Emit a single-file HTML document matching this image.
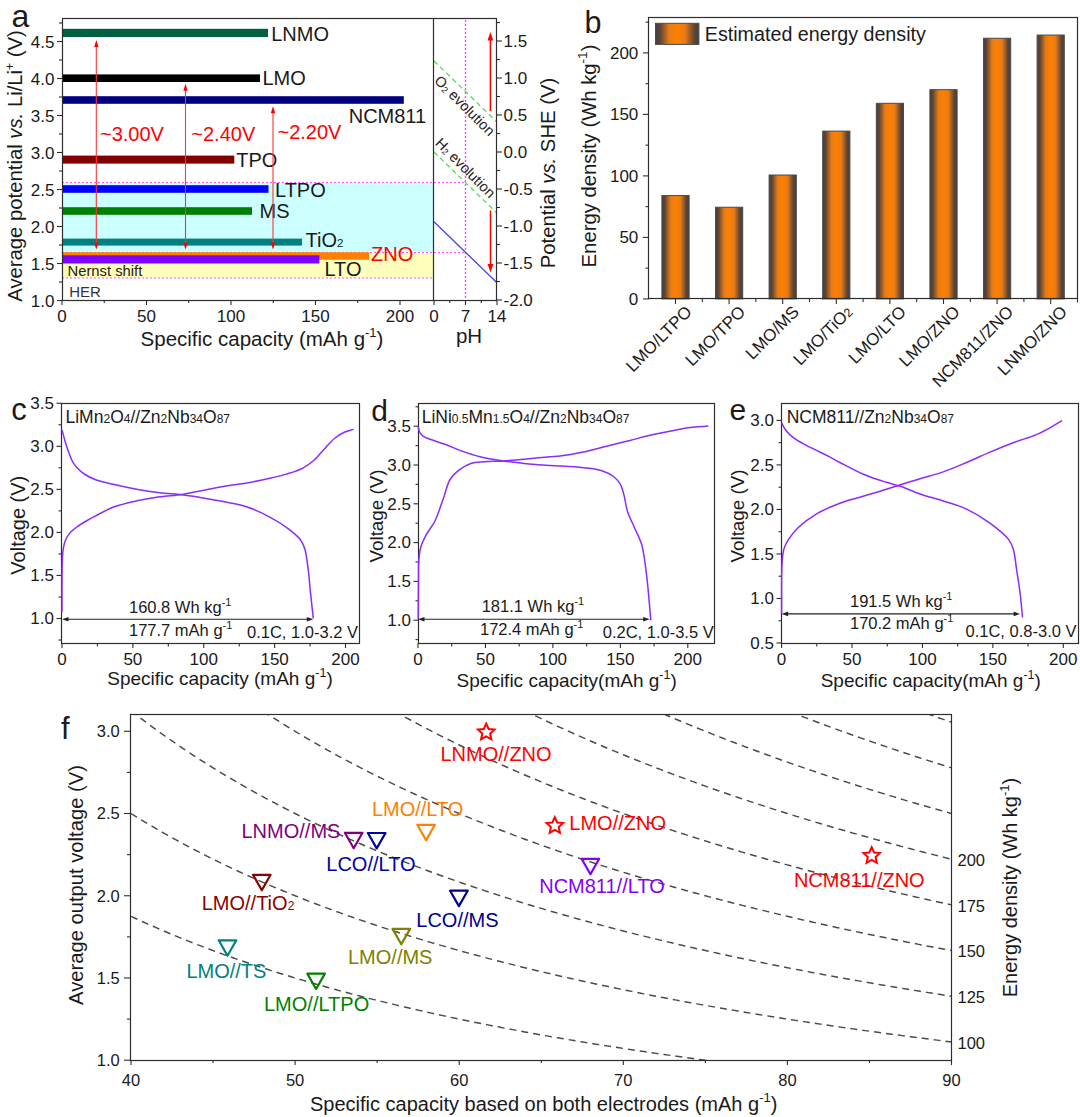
<!DOCTYPE html><html><head><meta charset="utf-8"><style>html,body{margin:0;padding:0;background:#fff;width:1080px;height:1117px;overflow:hidden}svg{display:block}text{font-family:'Liberation Sans',sans-serif}</style></head><body>
<svg width="1080" height="1117" viewBox="0 0 1080 1117">
<rect width="1080" height="1117" fill="#fff"/>
<rect x="62" y="182.5" width="372" height="70" fill="#CCFFFF"/>
<rect x="62" y="252.5" width="372" height="25.5" fill="#FFFFBB"/>
<line x1="62.00" y1="182.50" x2="465.50" y2="182.50" stroke="#FF55FF" stroke-width="1.2" stroke-dasharray="2,2"/>
<line x1="62.00" y1="252.50" x2="465.50" y2="252.50" stroke="#FF55FF" stroke-width="1.2" stroke-dasharray="2,2"/>
<line x1="62.00" y1="278.00" x2="434.00" y2="278.00" stroke="#FF55FF" stroke-width="1.2" stroke-dasharray="2,2"/>
<line x1="465.50" y1="20.00" x2="465.50" y2="300.00" stroke="#FF44FF" stroke-width="1.4" stroke-dasharray="2,2"/>
<rect x="62" y="28.80" width="206.00" height="8.2" fill="#006040"/>
<rect x="62" y="74.40" width="198.00" height="7.6" fill="#000000"/>
<rect x="62" y="96.20" width="341.80" height="7.6" fill="#000080"/>
<rect x="62" y="155.60" width="172.30" height="8" fill="#800000"/>
<rect x="62" y="185.20" width="206.50" height="7.6" fill="#0000FF"/>
<rect x="62" y="207.20" width="190.00" height="7.6" fill="#008000"/>
<rect x="62" y="238.60" width="240.00" height="7" fill="#008080"/>
<rect x="62" y="252.25" width="307.00" height="7.5" fill="#FF8000"/>
<rect x="62" y="255.30" width="257.40" height="8.2" fill="#8000FF"/>
<text x="271.20" y="40.50" font-size="20" text-anchor="start" fill="#1a1a1a" >LNMO</text>
<text x="262.50" y="84.50" font-size="20" text-anchor="start" fill="#1a1a1a" >LMO</text>
<text x="348.70" y="122.50" font-size="20" text-anchor="start" fill="#1a1a1a" >NCM811</text>
<text x="236.20" y="167.20" font-size="20" text-anchor="start" fill="#1a1a1a" >TPO</text>
<text x="275.00" y="197.00" font-size="20" text-anchor="start" fill="#1a1a1a" >LTPO</text>
<text x="259.50" y="217.50" font-size="20" text-anchor="start" fill="#1a1a1a" >MS</text>
<text x="305.60" y="246.90" font-size="20" text-anchor="start" fill="#1a1a1a" >TiO<tspan font-size="11.5">2</tspan></text>
<text x="371.10" y="261.30" font-size="20" text-anchor="start" fill="#FF0000" >ZNO</text>
<text x="324.40" y="276.10" font-size="20" text-anchor="start" fill="#1a1a1a" >LTO</text>
<text x="69.20" y="297.30" font-size="15" text-anchor="start" fill="#333" >HER</text>
<text x="67.50" y="275.50" font-size="14.8" text-anchor="start" fill="#222" >Nernst shift</text>
<line x1="96.30" y1="45.00" x2="96.30" y2="244.50" stroke="#FF3333" stroke-width="1.1" />
<polygon points="96.30,40.00 94.10,47.00 98.50,47.00" fill="#FF0000"/>
<polygon points="96.30,249.5 94.10,242.5 98.50,242.5" fill="#FF0000"/>
<line x1="185.50" y1="88.80" x2="185.50" y2="244.50" stroke="#FF3333" stroke-width="1.1" />
<polygon points="185.50,83.80 183.30,90.80 187.70,90.80" fill="#FF0000"/>
<polygon points="185.50,249.5 183.30,242.5 187.70,242.5" fill="#FF0000"/>
<line x1="273.00" y1="111.30" x2="273.00" y2="244.50" stroke="#FF3333" stroke-width="1.1" />
<polygon points="273.00,106.30 270.80,113.30 275.20,113.30" fill="#FF0000"/>
<polygon points="273.00,249.5 270.80,242.5 275.20,242.5" fill="#FF0000"/>
<text x="100.00" y="141.00" font-size="20" text-anchor="start" fill="#FF0000" >~3.00V</text>
<text x="191.30" y="141.00" font-size="20" text-anchor="start" fill="#FF0000" >~2.40V</text>
<text x="277.50" y="139.30" font-size="20" text-anchor="start" fill="#FF0000" >~2.20V</text>
<line x1="434.00" y1="60.98" x2="497.00" y2="122.10" stroke="#55DD55" stroke-width="1.3" stroke-dasharray="5,3.5"/>
<line x1="434.00" y1="152.00" x2="497.00" y2="213.12" stroke="#55DD55" stroke-width="1.3" stroke-dasharray="5,3.5"/>
<line x1="434.00" y1="221.80" x2="497.00" y2="282.80" stroke="#4444EE" stroke-width="1.3" />
<line x1="490.40" y1="111.00" x2="490.40" y2="38.80" stroke="#FF0000" stroke-width="1.5" />
<polygon points="490.40,32.00 487.50,40.50 493.30,40.50" fill="#FF0000"/>
<line x1="490.50" y1="210.50" x2="490.50" y2="265.70" stroke="#FF0000" stroke-width="1.5" />
<polygon points="490.50,272.50 487.60,264.00 493.40,264.00" fill="#FF0000"/>
<text font-size="14.5" fill="#222" transform="translate(433.5,81.5) rotate(45)">O<tspan font-size="9" dy="1">2</tspan><tspan dy="-1"> evolution</tspan></text>
<text font-size="14.5" fill="#222" transform="translate(434.5,144) rotate(45)">H<tspan font-size="9" dy="1">2</tspan><tspan dy="-1"> evolution</tspan></text>
<rect x="62.5" y="18.5" width="434" height="282" fill="none" stroke="#2e2e2e" stroke-width="1.2"/>
<line x1="433.50" y1="18.50" x2="433.50" y2="300.50" stroke="#2e2e2e" stroke-width="1.2" />
<line x1="57.00" y1="300.50" x2="62.00" y2="300.50" stroke="#2e2e2e" stroke-width="1.1" />
<text x="54.50" y="306.50" font-size="17" text-anchor="end" fill="#1a1a1a" >1.0</text>
<line x1="57.00" y1="263.50" x2="62.00" y2="263.50" stroke="#2e2e2e" stroke-width="1.1" />
<text x="54.50" y="269.50" font-size="17" text-anchor="end" fill="#1a1a1a" >1.5</text>
<line x1="57.00" y1="226.50" x2="62.00" y2="226.50" stroke="#2e2e2e" stroke-width="1.1" />
<text x="54.50" y="232.50" font-size="17" text-anchor="end" fill="#1a1a1a" >2.0</text>
<line x1="57.00" y1="189.50" x2="62.00" y2="189.50" stroke="#2e2e2e" stroke-width="1.1" />
<text x="54.50" y="195.50" font-size="17" text-anchor="end" fill="#1a1a1a" >2.5</text>
<line x1="57.00" y1="152.50" x2="62.00" y2="152.50" stroke="#2e2e2e" stroke-width="1.1" />
<text x="54.50" y="158.50" font-size="17" text-anchor="end" fill="#1a1a1a" >3.0</text>
<line x1="57.00" y1="115.50" x2="62.00" y2="115.50" stroke="#2e2e2e" stroke-width="1.1" />
<text x="54.50" y="121.50" font-size="17" text-anchor="end" fill="#1a1a1a" >3.5</text>
<line x1="57.00" y1="78.50" x2="62.00" y2="78.50" stroke="#2e2e2e" stroke-width="1.1" />
<text x="54.50" y="84.50" font-size="17" text-anchor="end" fill="#1a1a1a" >4.0</text>
<line x1="57.00" y1="41.50" x2="62.00" y2="41.50" stroke="#2e2e2e" stroke-width="1.1" />
<text x="54.50" y="47.50" font-size="17" text-anchor="end" fill="#1a1a1a" >4.5</text>
<line x1="59.00" y1="282.00" x2="62.00" y2="282.00" stroke="#2e2e2e" stroke-width="1.1" />
<line x1="59.00" y1="245.00" x2="62.00" y2="245.00" stroke="#2e2e2e" stroke-width="1.1" />
<line x1="59.00" y1="208.00" x2="62.00" y2="208.00" stroke="#2e2e2e" stroke-width="1.1" />
<line x1="59.00" y1="171.00" x2="62.00" y2="171.00" stroke="#2e2e2e" stroke-width="1.1" />
<line x1="59.00" y1="134.00" x2="62.00" y2="134.00" stroke="#2e2e2e" stroke-width="1.1" />
<line x1="59.00" y1="97.00" x2="62.00" y2="97.00" stroke="#2e2e2e" stroke-width="1.1" />
<line x1="59.00" y1="60.00" x2="62.00" y2="60.00" stroke="#2e2e2e" stroke-width="1.1" />
<line x1="59.00" y1="23.00" x2="62.00" y2="23.00" stroke="#2e2e2e" stroke-width="1.1" />
<line x1="497.00" y1="41.00" x2="502.00" y2="41.00" stroke="#2e2e2e" stroke-width="1.1" />
<text x="503.50" y="47.00" font-size="17" text-anchor="start" fill="#1a1a1a" >1.5</text>
<line x1="497.00" y1="78.00" x2="502.00" y2="78.00" stroke="#2e2e2e" stroke-width="1.1" />
<text x="503.50" y="84.00" font-size="17" text-anchor="start" fill="#1a1a1a" >1.0</text>
<line x1="497.00" y1="115.00" x2="502.00" y2="115.00" stroke="#2e2e2e" stroke-width="1.1" />
<text x="503.50" y="121.00" font-size="17" text-anchor="start" fill="#1a1a1a" >0.5</text>
<line x1="497.00" y1="152.00" x2="502.00" y2="152.00" stroke="#2e2e2e" stroke-width="1.1" />
<text x="503.50" y="158.00" font-size="17" text-anchor="start" fill="#1a1a1a" >0.0</text>
<line x1="497.00" y1="189.00" x2="502.00" y2="189.00" stroke="#2e2e2e" stroke-width="1.1" />
<text x="503.50" y="195.00" font-size="17" text-anchor="start" fill="#1a1a1a" >-0.5</text>
<line x1="497.00" y1="226.00" x2="502.00" y2="226.00" stroke="#2e2e2e" stroke-width="1.1" />
<text x="503.50" y="232.00" font-size="17" text-anchor="start" fill="#1a1a1a" >-1.0</text>
<line x1="497.00" y1="263.00" x2="502.00" y2="263.00" stroke="#2e2e2e" stroke-width="1.1" />
<text x="503.50" y="269.00" font-size="17" text-anchor="start" fill="#1a1a1a" >-1.5</text>
<line x1="497.00" y1="300.00" x2="502.00" y2="300.00" stroke="#2e2e2e" stroke-width="1.1" />
<text x="503.50" y="306.00" font-size="17" text-anchor="start" fill="#1a1a1a" >-2.0</text>
<line x1="497.00" y1="22.50" x2="500.00" y2="22.50" stroke="#2e2e2e" stroke-width="1.1" />
<line x1="497.00" y1="59.50" x2="500.00" y2="59.50" stroke="#2e2e2e" stroke-width="1.1" />
<line x1="497.00" y1="96.50" x2="500.00" y2="96.50" stroke="#2e2e2e" stroke-width="1.1" />
<line x1="497.00" y1="133.50" x2="500.00" y2="133.50" stroke="#2e2e2e" stroke-width="1.1" />
<line x1="497.00" y1="170.50" x2="500.00" y2="170.50" stroke="#2e2e2e" stroke-width="1.1" />
<line x1="497.00" y1="207.50" x2="500.00" y2="207.50" stroke="#2e2e2e" stroke-width="1.1" />
<line x1="497.00" y1="244.50" x2="500.00" y2="244.50" stroke="#2e2e2e" stroke-width="1.1" />
<line x1="497.00" y1="281.50" x2="500.00" y2="281.50" stroke="#2e2e2e" stroke-width="1.1" />
<line x1="497.00" y1="318.50" x2="500.00" y2="318.50" stroke="#2e2e2e" stroke-width="1.1" />
<line x1="62.00" y1="300.50" x2="62.00" y2="305.00" stroke="#2e2e2e" stroke-width="1.1" />
<text x="62.00" y="321.70" font-size="17" text-anchor="middle" fill="#1a1a1a" >0</text>
<line x1="146.50" y1="300.50" x2="146.50" y2="305.00" stroke="#2e2e2e" stroke-width="1.1" />
<text x="146.50" y="321.70" font-size="17" text-anchor="middle" fill="#1a1a1a" >50</text>
<line x1="231.00" y1="300.50" x2="231.00" y2="305.00" stroke="#2e2e2e" stroke-width="1.1" />
<text x="231.00" y="321.70" font-size="17" text-anchor="middle" fill="#1a1a1a" >100</text>
<line x1="315.50" y1="300.50" x2="315.50" y2="305.00" stroke="#2e2e2e" stroke-width="1.1" />
<text x="315.50" y="321.70" font-size="17" text-anchor="middle" fill="#1a1a1a" >150</text>
<line x1="400.00" y1="300.50" x2="400.00" y2="305.00" stroke="#2e2e2e" stroke-width="1.1" />
<text x="400.00" y="321.70" font-size="17" text-anchor="middle" fill="#1a1a1a" >200</text>
<line x1="104.25" y1="300.50" x2="104.25" y2="303.00" stroke="#2e2e2e" stroke-width="1.1" />
<line x1="188.75" y1="300.50" x2="188.75" y2="303.00" stroke="#2e2e2e" stroke-width="1.1" />
<line x1="273.25" y1="300.50" x2="273.25" y2="303.00" stroke="#2e2e2e" stroke-width="1.1" />
<line x1="357.75" y1="300.50" x2="357.75" y2="303.00" stroke="#2e2e2e" stroke-width="1.1" />
<line x1="434.00" y1="300.50" x2="434.00" y2="305.00" stroke="#2e2e2e" stroke-width="1.1" />
<text x="434.00" y="321.70" font-size="17" text-anchor="middle" fill="#1a1a1a" >0</text>
<line x1="465.50" y1="300.50" x2="465.50" y2="305.00" stroke="#2e2e2e" stroke-width="1.1" />
<text x="465.50" y="321.70" font-size="17" text-anchor="middle" fill="#1a1a1a" >7</text>
<line x1="497.00" y1="300.50" x2="497.00" y2="305.00" stroke="#2e2e2e" stroke-width="1.1" />
<text x="497.00" y="321.70" font-size="17" text-anchor="middle" fill="#1a1a1a" >14</text>
<line x1="449.75" y1="300.50" x2="449.75" y2="303.00" stroke="#2e2e2e" stroke-width="1.1" />
<line x1="481.25" y1="300.50" x2="481.25" y2="303.00" stroke="#2e2e2e" stroke-width="1.1" />
<text x="262.00" y="345.50" font-size="20.5" text-anchor="middle" fill="#1a1a1a" >Specific capacity (mAh g<tspan font-size="13" dy="-8.5">-1</tspan><tspan dy="8.5">)</tspan></text>
<text x="469.00" y="343.00" font-size="20.5" text-anchor="middle" fill="#1a1a1a" >pH</text>
<text font-size="20.3" fill="#1a1a1a" text-anchor="middle" transform="translate(21.7,166) rotate(-90)">Average potential <tspan font-style="italic">vs.</tspan> Li/Li<tspan font-size="12" dy="-8">+</tspan><tspan dy="8"> (V)</tspan></text>
<text font-size="20.3" fill="#1a1a1a" text-anchor="middle" transform="translate(555,173) rotate(-90)">Potential  <tspan font-style="italic">vs.</tspan> SHE (V)</text>
<text x="11.50" y="26.70" font-size="32" text-anchor="start" fill="#231815" >a</text>
<defs><linearGradient id="og" x1="0" x2="1" y1="0" y2="0">
<stop offset="0" stop-color="#454040"/><stop offset="0.1" stop-color="#5a4435"/>
<stop offset="0.32" stop-color="#e87b18"/><stop offset="0.5" stop-color="#ff8000"/>
<stop offset="0.68" stop-color="#e87b18"/><stop offset="0.9" stop-color="#5a4435"/>
<stop offset="1" stop-color="#454040"/></linearGradient></defs>
<rect x="661.90" y="195.56" width="27.2" height="103.34" fill="url(#og)" stroke="#4a4a4a" stroke-width="1"/>
<line x1="675.50" y1="298.90" x2="675.50" y2="304.00" stroke="#2e2e2e" stroke-width="1.1" />
<line x1="702.30" y1="298.90" x2="702.30" y2="302.00" stroke="#2e2e2e" stroke-width="1.1" />
<text font-size="17" fill="#1a1a1a" text-anchor="end" transform="translate(692.80,313) rotate(-45)">LMO/LTPO</text>
<rect x="715.50" y="207.25" width="27.2" height="91.65" fill="url(#og)" stroke="#4a4a4a" stroke-width="1"/>
<line x1="729.10" y1="298.90" x2="729.10" y2="304.00" stroke="#2e2e2e" stroke-width="1.1" />
<line x1="755.90" y1="298.90" x2="755.90" y2="302.00" stroke="#2e2e2e" stroke-width="1.1" />
<text font-size="17" fill="#1a1a1a" text-anchor="end" transform="translate(746.40,313) rotate(-45)">LMO/TPO</text>
<rect x="769.10" y="175.02" width="27.2" height="123.88" fill="url(#og)" stroke="#4a4a4a" stroke-width="1"/>
<line x1="782.70" y1="298.90" x2="782.70" y2="304.00" stroke="#2e2e2e" stroke-width="1.1" />
<line x1="809.50" y1="298.90" x2="809.50" y2="302.00" stroke="#2e2e2e" stroke-width="1.1" />
<text font-size="17" fill="#1a1a1a" text-anchor="end" transform="translate(800.00,313) rotate(-45)">LMO/MS</text>
<rect x="822.70" y="131.11" width="27.2" height="167.79" fill="url(#og)" stroke="#4a4a4a" stroke-width="1"/>
<line x1="836.30" y1="298.90" x2="836.30" y2="304.00" stroke="#2e2e2e" stroke-width="1.1" />
<line x1="863.10" y1="298.90" x2="863.10" y2="302.00" stroke="#2e2e2e" stroke-width="1.1" />
<text font-size="17" fill="#1a1a1a" text-anchor="end" transform="translate(853.60,313) rotate(-45)">LMO/TiO<tspan font-size="12.5">2</tspan></text>
<rect x="876.30" y="103.31" width="27.2" height="195.59" fill="url(#og)" stroke="#4a4a4a" stroke-width="1"/>
<line x1="889.90" y1="298.90" x2="889.90" y2="304.00" stroke="#2e2e2e" stroke-width="1.1" />
<line x1="916.70" y1="298.90" x2="916.70" y2="302.00" stroke="#2e2e2e" stroke-width="1.1" />
<text font-size="17" fill="#1a1a1a" text-anchor="end" transform="translate(907.20,313) rotate(-45)">LMO/LTO</text>
<rect x="929.90" y="89.66" width="27.2" height="209.24" fill="url(#og)" stroke="#4a4a4a" stroke-width="1"/>
<line x1="943.50" y1="298.90" x2="943.50" y2="304.00" stroke="#2e2e2e" stroke-width="1.1" />
<line x1="970.30" y1="298.90" x2="970.30" y2="302.00" stroke="#2e2e2e" stroke-width="1.1" />
<text font-size="17" fill="#1a1a1a" text-anchor="end" transform="translate(960.80,313) rotate(-45)">LMO/ZNO</text>
<rect x="983.50" y="38.25" width="27.2" height="260.65" fill="url(#og)" stroke="#4a4a4a" stroke-width="1"/>
<line x1="997.10" y1="298.90" x2="997.10" y2="304.00" stroke="#2e2e2e" stroke-width="1.1" />
<line x1="1023.90" y1="298.90" x2="1023.90" y2="302.00" stroke="#2e2e2e" stroke-width="1.1" />
<text font-size="17" fill="#1a1a1a" text-anchor="end" transform="translate(1014.40,313) rotate(-45)">NCM811/ZNO</text>
<rect x="1037.10" y="35.05" width="27.2" height="263.85" fill="url(#og)" stroke="#4a4a4a" stroke-width="1"/>
<line x1="1050.70" y1="298.90" x2="1050.70" y2="304.00" stroke="#2e2e2e" stroke-width="1.1" />
<text font-size="17" fill="#1a1a1a" text-anchor="end" transform="translate(1068.00,313) rotate(-45)">LNMO/ZNO</text>
<line x1="648.90" y1="298.90" x2="648.90" y2="298.90" stroke="#2e2e2e" stroke-width="1.2" />
<rect x="648.5" y="17.5" width="429" height="281" fill="none" stroke="#2e2e2e" stroke-width="1.2"/>
<line x1="1077.50" y1="298.90" x2="1077.50" y2="302.50" stroke="#2e2e2e" stroke-width="1.1" />
<line x1="643.00" y1="298.90" x2="648.90" y2="298.90" stroke="#2e2e2e" stroke-width="1.1" />
<text x="638.30" y="304.70" font-size="17" text-anchor="end" fill="#1a1a1a" >0</text>
<line x1="643.00" y1="237.40" x2="648.90" y2="237.40" stroke="#2e2e2e" stroke-width="1.1" />
<text x="638.30" y="243.20" font-size="17" text-anchor="end" fill="#1a1a1a" >50</text>
<line x1="643.00" y1="175.90" x2="648.90" y2="175.90" stroke="#2e2e2e" stroke-width="1.1" />
<text x="638.30" y="181.70" font-size="17" text-anchor="end" fill="#1a1a1a" >100</text>
<line x1="643.00" y1="114.40" x2="648.90" y2="114.40" stroke="#2e2e2e" stroke-width="1.1" />
<text x="638.30" y="120.20" font-size="17" text-anchor="end" fill="#1a1a1a" >150</text>
<line x1="643.00" y1="52.90" x2="648.90" y2="52.90" stroke="#2e2e2e" stroke-width="1.1" />
<text x="638.30" y="58.70" font-size="17" text-anchor="end" fill="#1a1a1a" >200</text>
<line x1="645.50" y1="268.15" x2="648.90" y2="268.15" stroke="#2e2e2e" stroke-width="1.1" />
<line x1="645.50" y1="206.65" x2="648.90" y2="206.65" stroke="#2e2e2e" stroke-width="1.1" />
<line x1="645.50" y1="145.15" x2="648.90" y2="145.15" stroke="#2e2e2e" stroke-width="1.1" />
<line x1="645.50" y1="83.65" x2="648.90" y2="83.65" stroke="#2e2e2e" stroke-width="1.1" />
<line x1="645.50" y1="22.15" x2="648.90" y2="22.15" stroke="#2e2e2e" stroke-width="1.1" />
<rect x="655.5" y="23.3" width="43.4" height="21.1" fill="url(#og)" stroke="#4a4a4a" stroke-width="1"/>
<text x="704.80" y="40.70" font-size="19.7" text-anchor="start" fill="#1a1a1a" >Estimated energy density</text>
<text font-size="20.3" fill="#1a1a1a" text-anchor="middle" transform="translate(596,156) rotate(-90)">Energy density (Wh kg<tspan font-size="13.5" dy="-9">-1</tspan><tspan dy="9">)</tspan></text>
<text x="584.50" y="33.00" font-size="30.5" text-anchor="start" fill="#231815" >b</text>
<rect x="61.5" y="403.5" width="298.00" height="240.00" fill="none" stroke="#2e2e2e" stroke-width="1.2"/>
<line x1="56.50" y1="618.50" x2="61.50" y2="618.50" stroke="#2e2e2e" stroke-width="1.1" />
<text x="54.00" y="624.30" font-size="17" text-anchor="end" fill="#1a1a1a" >1.0</text>
<line x1="56.50" y1="575.45" x2="61.50" y2="575.45" stroke="#2e2e2e" stroke-width="1.1" />
<text x="54.00" y="581.25" font-size="17" text-anchor="end" fill="#1a1a1a" >1.5</text>
<line x1="56.50" y1="532.40" x2="61.50" y2="532.40" stroke="#2e2e2e" stroke-width="1.1" />
<text x="54.00" y="538.20" font-size="17" text-anchor="end" fill="#1a1a1a" >2.0</text>
<line x1="56.50" y1="489.35" x2="61.50" y2="489.35" stroke="#2e2e2e" stroke-width="1.1" />
<text x="54.00" y="495.15" font-size="17" text-anchor="end" fill="#1a1a1a" >2.5</text>
<line x1="56.50" y1="446.30" x2="61.50" y2="446.30" stroke="#2e2e2e" stroke-width="1.1" />
<text x="54.00" y="452.10" font-size="17" text-anchor="end" fill="#1a1a1a" >3.0</text>
<line x1="56.50" y1="403.25" x2="61.50" y2="403.25" stroke="#2e2e2e" stroke-width="1.1" />
<text x="54.00" y="409.05" font-size="17" text-anchor="end" fill="#1a1a1a" >3.5</text>
<line x1="58.50" y1="640.02" x2="61.50" y2="640.02" stroke="#2e2e2e" stroke-width="1.1" />
<line x1="58.50" y1="596.98" x2="61.50" y2="596.98" stroke="#2e2e2e" stroke-width="1.1" />
<line x1="58.50" y1="553.92" x2="61.50" y2="553.92" stroke="#2e2e2e" stroke-width="1.1" />
<line x1="58.50" y1="510.88" x2="61.50" y2="510.88" stroke="#2e2e2e" stroke-width="1.1" />
<line x1="58.50" y1="467.83" x2="61.50" y2="467.83" stroke="#2e2e2e" stroke-width="1.1" />
<line x1="58.50" y1="424.77" x2="61.50" y2="424.77" stroke="#2e2e2e" stroke-width="1.1" />
<line x1="62.00" y1="643.50" x2="62.00" y2="648.00" stroke="#2e2e2e" stroke-width="1.1" />
<text x="62.00" y="664.50" font-size="17" text-anchor="middle" fill="#1a1a1a" >0</text>
<line x1="132.88" y1="643.50" x2="132.88" y2="648.00" stroke="#2e2e2e" stroke-width="1.1" />
<text x="132.88" y="664.50" font-size="17" text-anchor="middle" fill="#1a1a1a" >50</text>
<line x1="203.75" y1="643.50" x2="203.75" y2="648.00" stroke="#2e2e2e" stroke-width="1.1" />
<text x="203.75" y="664.50" font-size="17" text-anchor="middle" fill="#1a1a1a" >100</text>
<line x1="274.62" y1="643.50" x2="274.62" y2="648.00" stroke="#2e2e2e" stroke-width="1.1" />
<text x="274.62" y="664.50" font-size="17" text-anchor="middle" fill="#1a1a1a" >150</text>
<line x1="345.50" y1="643.50" x2="345.50" y2="648.00" stroke="#2e2e2e" stroke-width="1.1" />
<text x="345.50" y="664.50" font-size="17" text-anchor="middle" fill="#1a1a1a" >200</text>
<line x1="97.44" y1="643.50" x2="97.44" y2="646.50" stroke="#2e2e2e" stroke-width="1.1" />
<line x1="168.31" y1="643.50" x2="168.31" y2="646.50" stroke="#2e2e2e" stroke-width="1.1" />
<line x1="239.19" y1="643.50" x2="239.19" y2="646.50" stroke="#2e2e2e" stroke-width="1.1" />
<line x1="310.06" y1="643.50" x2="310.06" y2="646.50" stroke="#2e2e2e" stroke-width="1.1" />
<path d="M62.00,612.00 C62.03,598.07 61.91,580.64 62.10,570.20 C62.21,563.95 62.27,559.47 62.60,555.20 C62.84,551.99 63.07,549.41 63.60,546.80 C64.08,544.45 64.59,542.35 65.50,540.20 C66.46,537.94 67.61,535.67 69.30,533.60 C71.24,531.23 74.07,529.05 76.80,527.00 C79.68,524.83 83.04,522.88 86.20,521.00 C89.30,519.15 91.90,517.71 95.60,515.80 C100.74,513.14 107.65,509.26 114.30,506.80 C121.36,504.19 129.31,502.47 136.90,500.80 C144.47,499.14 152.21,497.87 159.80,496.80 C167.24,495.75 175.01,495.46 182.00,494.40 C188.34,493.44 193.61,492.12 200.00,490.90 C207.26,489.51 215.53,487.82 223.30,486.50 C231.03,485.19 238.78,484.36 246.50,483.00 C254.28,481.63 262.74,479.92 269.80,478.30 C275.74,476.94 280.70,475.75 286.10,474.10 C291.57,472.43 297.57,470.79 302.40,468.30 C306.76,466.05 310.30,463.45 314.00,460.20 C318.10,456.60 321.99,451.30 325.70,447.40 C328.94,443.99 331.74,440.60 335.00,438.00 C337.97,435.63 341.10,433.65 344.30,432.20 C347.31,430.84 350.50,430.33 353.60,429.40" fill="none" stroke="#8A2BFF" stroke-width="1.5" stroke-linejoin="round"/>
<path d="M62.00,430.00 C63.53,435.40 64.84,440.92 66.60,446.20 C68.34,451.41 70.43,457.67 72.50,461.50 C73.89,464.07 74.99,465.53 76.80,467.50 C78.99,469.88 81.95,472.50 85.00,474.50 C88.19,476.60 91.48,478.17 95.60,479.70 C100.87,481.66 107.78,483.06 114.30,484.60 C121.36,486.27 128.99,487.94 136.50,489.30 C144.15,490.68 152.11,491.89 159.80,492.80 C167.28,493.68 175.00,493.88 182.00,494.70 C188.33,495.44 193.62,496.35 200.00,497.40 C207.27,498.60 215.56,500.05 223.30,501.60 C231.06,503.15 238.89,504.18 246.50,506.70 C254.40,509.32 262.59,513.35 269.80,517.20 C276.48,520.77 283.06,524.79 288.40,528.80 C292.92,532.20 297.31,535.63 300.10,539.30 C302.37,542.28 303.46,544.77 304.70,548.60 C306.47,554.07 307.25,562.33 308.20,569.50 C309.20,577.04 309.67,584.85 310.50,592.80 C311.37,601.13 312.37,609.87 313.30,618.40" fill="none" stroke="#8A2BFF" stroke-width="1.5" stroke-linejoin="round"/>
<line x1="67.00" y1="619.20" x2="308.30" y2="619.20" stroke="#222" stroke-width="1.1" />
<polygon points="62.00,619.20 68.50,616.90 68.50,621.50" fill="#222"/>
<polygon points="313.30,619.20 306.80,616.90 306.80,621.50" fill="#222"/>
<text x="129.00" y="613.00" font-size="16.5" text-anchor="start" fill="#1a1a1a" >160.8 Wh kg<tspan font-size="11" dy="-7">-1</tspan><tspan dy="7"></tspan></text>
<text x="129.00" y="635.80" font-size="16.5" text-anchor="start" fill="#1a1a1a" >177.7 mAh g<tspan font-size="11" dy="-7">-1</tspan><tspan dy="7"></tspan></text>
<text x="358.00" y="638.30" font-size="16.5" text-anchor="end" fill="#1a1a1a" >0.1C, 1.0-3.2 V</text>
<text x="65.50" y="422.50" font-size="17.5" text-anchor="start" fill="#1a1a1a" >LiMn<tspan font-size="12">2</tspan>O<tspan font-size="12">4</tspan>//Zn<tspan font-size="12">2</tspan>Nb<tspan font-size="12">34</tspan>O<tspan font-size="12">87</tspan></text>
<text x="220.00" y="685.30" font-size="19" text-anchor="middle" fill="#1a1a1a" >Specific capacity (mAh g<tspan font-size="12.5" dy="-8">-1</tspan><tspan dy="8">)</tspan></text>
<text font-size="20" fill="#1a1a1a" text-anchor="middle" transform="translate(24.5,525.2) rotate(-90)">Voltage (V)</text>
<text x="11.20" y="420.00" font-size="31" text-anchor="start" fill="#231815" >c</text>
<rect x="418.5" y="403.5" width="296.00" height="240.00" fill="none" stroke="#2e2e2e" stroke-width="1.2"/>
<line x1="413.50" y1="620.20" x2="418.50" y2="620.20" stroke="#2e2e2e" stroke-width="1.1" />
<text x="411.00" y="626.00" font-size="17" text-anchor="end" fill="#1a1a1a" >1.0</text>
<line x1="413.50" y1="581.40" x2="418.50" y2="581.40" stroke="#2e2e2e" stroke-width="1.1" />
<text x="411.00" y="587.20" font-size="17" text-anchor="end" fill="#1a1a1a" >1.5</text>
<line x1="413.50" y1="542.60" x2="418.50" y2="542.60" stroke="#2e2e2e" stroke-width="1.1" />
<text x="411.00" y="548.40" font-size="17" text-anchor="end" fill="#1a1a1a" >2.0</text>
<line x1="413.50" y1="503.80" x2="418.50" y2="503.80" stroke="#2e2e2e" stroke-width="1.1" />
<text x="411.00" y="509.60" font-size="17" text-anchor="end" fill="#1a1a1a" >2.5</text>
<line x1="413.50" y1="465.00" x2="418.50" y2="465.00" stroke="#2e2e2e" stroke-width="1.1" />
<text x="411.00" y="470.80" font-size="17" text-anchor="end" fill="#1a1a1a" >3.0</text>
<line x1="413.50" y1="426.20" x2="418.50" y2="426.20" stroke="#2e2e2e" stroke-width="1.1" />
<text x="411.00" y="432.00" font-size="17" text-anchor="end" fill="#1a1a1a" >3.5</text>
<line x1="415.50" y1="639.60" x2="418.50" y2="639.60" stroke="#2e2e2e" stroke-width="1.1" />
<line x1="415.50" y1="600.80" x2="418.50" y2="600.80" stroke="#2e2e2e" stroke-width="1.1" />
<line x1="415.50" y1="562.00" x2="418.50" y2="562.00" stroke="#2e2e2e" stroke-width="1.1" />
<line x1="415.50" y1="523.20" x2="418.50" y2="523.20" stroke="#2e2e2e" stroke-width="1.1" />
<line x1="415.50" y1="484.40" x2="418.50" y2="484.40" stroke="#2e2e2e" stroke-width="1.1" />
<line x1="415.50" y1="445.60" x2="418.50" y2="445.60" stroke="#2e2e2e" stroke-width="1.1" />
<line x1="415.50" y1="406.80" x2="418.50" y2="406.80" stroke="#2e2e2e" stroke-width="1.1" />
<line x1="418.00" y1="643.50" x2="418.00" y2="648.00" stroke="#2e2e2e" stroke-width="1.1" />
<text x="418.00" y="664.50" font-size="17" text-anchor="middle" fill="#1a1a1a" >0</text>
<line x1="485.45" y1="643.50" x2="485.45" y2="648.00" stroke="#2e2e2e" stroke-width="1.1" />
<text x="485.45" y="664.50" font-size="17" text-anchor="middle" fill="#1a1a1a" >50</text>
<line x1="552.90" y1="643.50" x2="552.90" y2="648.00" stroke="#2e2e2e" stroke-width="1.1" />
<text x="552.90" y="664.50" font-size="17" text-anchor="middle" fill="#1a1a1a" >100</text>
<line x1="620.35" y1="643.50" x2="620.35" y2="648.00" stroke="#2e2e2e" stroke-width="1.1" />
<text x="620.35" y="664.50" font-size="17" text-anchor="middle" fill="#1a1a1a" >150</text>
<line x1="687.80" y1="643.50" x2="687.80" y2="648.00" stroke="#2e2e2e" stroke-width="1.1" />
<text x="687.80" y="664.50" font-size="17" text-anchor="middle" fill="#1a1a1a" >200</text>
<line x1="451.73" y1="643.50" x2="451.73" y2="646.50" stroke="#2e2e2e" stroke-width="1.1" />
<line x1="519.17" y1="643.50" x2="519.17" y2="646.50" stroke="#2e2e2e" stroke-width="1.1" />
<line x1="586.62" y1="643.50" x2="586.62" y2="646.50" stroke="#2e2e2e" stroke-width="1.1" />
<line x1="654.08" y1="643.50" x2="654.08" y2="646.50" stroke="#2e2e2e" stroke-width="1.1" />
<path d="M418.20,618.60 C418.30,605.73 418.38,590.61 418.50,580.00 C418.59,572.56 418.36,566.75 418.80,561.00 C419.16,556.19 419.39,552.11 420.60,547.80 C421.85,543.34 424.02,538.99 426.30,534.70 C428.68,530.21 432.13,526.64 434.70,521.50 C437.89,515.13 440.59,506.20 443.20,499.00 C445.59,492.42 446.85,484.99 449.80,480.00 C452.13,476.06 454.83,473.41 458.20,470.70 C461.91,467.72 466.85,464.67 471.40,463.20 C475.64,461.84 479.74,462.17 484.50,461.80 C490.17,461.36 496.63,461.33 503.20,460.90 C510.52,460.42 518.66,459.70 526.40,459.00 C534.16,458.30 543.49,457.22 549.70,456.70 C553.82,456.36 555.89,456.49 560.00,456.00 C566.22,455.26 575.56,453.62 583.30,452.00 C591.10,450.36 598.83,448.13 606.60,446.20 C614.37,444.27 622.13,442.33 629.90,440.40 C637.67,438.47 645.42,436.35 653.20,434.60 C660.92,432.86 669.63,431.14 676.40,429.90 C681.64,428.94 685.43,428.23 690.40,427.60 C695.99,426.89 702.33,426.53 708.30,426.00" fill="none" stroke="#8A2BFF" stroke-width="1.5" stroke-linejoin="round"/>
<path d="M418.20,426.50 C418.73,428.50 418.91,430.82 419.80,432.50 C420.59,433.99 421.65,435.18 423.00,436.20 C424.51,437.34 426.21,437.85 428.60,438.80 C432.60,440.39 439.58,442.29 445.00,444.30 C450.45,446.32 455.56,448.88 461.20,450.90 C467.17,453.04 473.27,455.08 479.90,456.70 C487.19,458.48 495.42,459.73 503.20,460.90 C510.92,462.06 518.65,462.92 526.40,463.70 C534.15,464.48 543.49,465.23 549.70,465.60 C553.82,465.85 555.88,465.77 560.00,466.00 C566.21,466.35 575.99,466.85 583.30,467.70 C589.87,468.47 596.53,468.98 601.90,470.70 C606.37,472.13 610.41,474.00 613.60,476.50 C616.49,478.77 618.77,481.62 620.50,484.70 C622.25,487.81 622.93,491.21 624.00,495.10 C625.32,499.89 625.79,506.05 627.50,511.40 C629.26,516.92 632.17,522.27 634.50,527.70 C636.83,533.13 639.76,538.28 641.50,544.00 C643.30,549.92 643.98,555.96 645.00,562.70 C646.19,570.55 647.08,579.28 648.00,588.30 C649.03,598.39 649.87,609.70 650.80,620.40" fill="none" stroke="#8A2BFF" stroke-width="1.5" stroke-linejoin="round"/>
<line x1="423.00" y1="619.30" x2="644.70" y2="619.30" stroke="#222" stroke-width="1.1" />
<polygon points="418.00,619.30 424.50,617.00 424.50,621.60" fill="#222"/>
<polygon points="649.70,619.30 643.20,617.00 643.20,621.60" fill="#222"/>
<text x="481.70" y="611.70" font-size="16.5" text-anchor="start" fill="#1a1a1a" >181.1 Wh kg<tspan font-size="11" dy="-7">-1</tspan><tspan dy="7"></tspan></text>
<text x="480.00" y="635.00" font-size="16.5" text-anchor="start" fill="#1a1a1a" >172.4 mAh g<tspan font-size="11" dy="-7">-1</tspan><tspan dy="7"></tspan></text>
<text x="713.70" y="638.20" font-size="16.5" text-anchor="end" fill="#1a1a1a" >0.2C, 1.0-3.5 V</text>
<text x="421.70" y="423.30" font-size="17.5" text-anchor="start" fill="#1a1a1a" >LiNi<tspan font-size="12">0.5</tspan>Mn<tspan font-size="12">1.5</tspan>O<tspan font-size="12">4</tspan>//Zn<tspan font-size="12">2</tspan>Nb<tspan font-size="12">34</tspan>O<tspan font-size="12">87</tspan></text>
<text x="566.70" y="686.70" font-size="19" text-anchor="middle" fill="#1a1a1a" >Specific capacity(mAh g<tspan font-size="12.5" dy="-8">-1</tspan><tspan dy="8">)</tspan></text>
<text font-size="18.8" fill="#1a1a1a" text-anchor="middle" transform="translate(383,516) rotate(-90)">Voltage (V)</text>
<text x="371.20" y="420.90" font-size="30" text-anchor="start" fill="#231815" >d</text>
<rect x="781.5" y="403.5" width="297.00" height="240.00" fill="none" stroke="#2e2e2e" stroke-width="1.2"/>
<line x1="776.50" y1="643.00" x2="781.50" y2="643.00" stroke="#2e2e2e" stroke-width="1.1" />
<text x="774.00" y="648.80" font-size="17" text-anchor="end" fill="#1a1a1a" >0.5</text>
<line x1="776.50" y1="598.48" x2="781.50" y2="598.48" stroke="#2e2e2e" stroke-width="1.1" />
<text x="774.00" y="604.28" font-size="17" text-anchor="end" fill="#1a1a1a" >1.0</text>
<line x1="776.50" y1="553.96" x2="781.50" y2="553.96" stroke="#2e2e2e" stroke-width="1.1" />
<text x="774.00" y="559.76" font-size="17" text-anchor="end" fill="#1a1a1a" >1.5</text>
<line x1="776.50" y1="509.44" x2="781.50" y2="509.44" stroke="#2e2e2e" stroke-width="1.1" />
<text x="774.00" y="515.24" font-size="17" text-anchor="end" fill="#1a1a1a" >2.0</text>
<line x1="776.50" y1="464.92" x2="781.50" y2="464.92" stroke="#2e2e2e" stroke-width="1.1" />
<text x="774.00" y="470.72" font-size="17" text-anchor="end" fill="#1a1a1a" >2.5</text>
<line x1="776.50" y1="420.40" x2="781.50" y2="420.40" stroke="#2e2e2e" stroke-width="1.1" />
<text x="774.00" y="426.20" font-size="17" text-anchor="end" fill="#1a1a1a" >3.0</text>
<line x1="778.50" y1="620.74" x2="781.50" y2="620.74" stroke="#2e2e2e" stroke-width="1.1" />
<line x1="778.50" y1="576.22" x2="781.50" y2="576.22" stroke="#2e2e2e" stroke-width="1.1" />
<line x1="778.50" y1="531.70" x2="781.50" y2="531.70" stroke="#2e2e2e" stroke-width="1.1" />
<line x1="778.50" y1="487.18" x2="781.50" y2="487.18" stroke="#2e2e2e" stroke-width="1.1" />
<line x1="778.50" y1="442.66" x2="781.50" y2="442.66" stroke="#2e2e2e" stroke-width="1.1" />
<line x1="781.60" y1="643.50" x2="781.60" y2="648.00" stroke="#2e2e2e" stroke-width="1.1" />
<text x="781.60" y="664.50" font-size="17" text-anchor="middle" fill="#1a1a1a" >0</text>
<line x1="852.03" y1="643.50" x2="852.03" y2="648.00" stroke="#2e2e2e" stroke-width="1.1" />
<text x="852.03" y="664.50" font-size="17" text-anchor="middle" fill="#1a1a1a" >50</text>
<line x1="922.45" y1="643.50" x2="922.45" y2="648.00" stroke="#2e2e2e" stroke-width="1.1" />
<text x="922.45" y="664.50" font-size="17" text-anchor="middle" fill="#1a1a1a" >100</text>
<line x1="992.88" y1="643.50" x2="992.88" y2="648.00" stroke="#2e2e2e" stroke-width="1.1" />
<text x="992.88" y="664.50" font-size="17" text-anchor="middle" fill="#1a1a1a" >150</text>
<line x1="1063.30" y1="643.50" x2="1063.30" y2="648.00" stroke="#2e2e2e" stroke-width="1.1" />
<text x="1063.30" y="664.50" font-size="17" text-anchor="middle" fill="#1a1a1a" >200</text>
<line x1="816.81" y1="643.50" x2="816.81" y2="646.50" stroke="#2e2e2e" stroke-width="1.1" />
<line x1="887.24" y1="643.50" x2="887.24" y2="646.50" stroke="#2e2e2e" stroke-width="1.1" />
<line x1="957.66" y1="643.50" x2="957.66" y2="646.50" stroke="#2e2e2e" stroke-width="1.1" />
<line x1="1028.09" y1="643.50" x2="1028.09" y2="646.50" stroke="#2e2e2e" stroke-width="1.1" />
<path d="M781.60,613.90 C781.77,596.83 781.25,574.40 782.10,562.70 C782.55,556.55 782.74,552.80 784.00,548.70 C785.08,545.19 786.58,542.56 788.60,539.40 C791.03,535.59 794.04,531.52 798.00,527.70 C802.92,522.95 809.81,517.80 816.60,513.80 C823.72,509.60 832.04,506.24 839.90,503.30 C847.57,500.43 855.44,498.64 863.20,496.30 C870.94,493.97 879.65,491.43 886.40,489.30 C891.66,487.64 895.33,486.30 900.40,484.70 C906.37,482.82 913.18,480.84 920.00,478.80 C927.43,476.58 935.60,474.59 943.30,471.90 C951.13,469.17 958.86,465.79 966.60,462.50 C974.40,459.19 982.10,455.41 989.90,452.10 C997.64,448.81 1005.41,445.63 1013.20,442.70 C1020.91,439.80 1029.72,437.42 1036.40,434.60 C1041.73,432.35 1045.99,430.02 1050.40,427.60 C1054.52,425.34 1058.20,422.93 1062.10,420.60" fill="none" stroke="#8A2BFF" stroke-width="1.5" stroke-linejoin="round"/>
<path d="M781.60,423.00 C783.07,425.50 784.16,428.15 786.00,430.50 C787.99,433.04 790.44,435.39 793.30,437.60 C796.60,440.15 800.98,442.45 804.90,444.60 C808.75,446.71 812.71,448.46 816.60,450.40 C820.48,452.33 824.34,454.20 828.20,456.20 C832.11,458.23 835.31,460.11 839.90,462.50 C846.32,465.84 855.33,470.87 863.20,474.20 C870.84,477.44 879.61,480.15 886.40,482.30 C891.63,483.96 895.39,484.60 900.40,486.30 C906.43,488.34 913.13,491.62 920.00,494.00 C927.38,496.55 935.56,498.49 943.30,501.00 C951.09,503.52 959.01,505.55 966.60,509.10 C974.56,512.83 982.78,517.91 989.90,523.10 C996.69,528.05 1004.60,534.37 1008.50,539.40 C1011.03,542.67 1011.95,544.86 1013.20,548.70 C1014.98,554.19 1015.48,562.51 1016.60,569.70 C1017.78,577.26 1019.12,585.13 1020.10,593.00 C1021.10,601.03 1021.70,609.27 1022.50,617.40" fill="none" stroke="#8A2BFF" stroke-width="1.5" stroke-linejoin="round"/>
<line x1="786.60" y1="613.90" x2="1015.10" y2="613.90" stroke="#222" stroke-width="1.1" />
<polygon points="781.60,613.90 788.10,611.60 788.10,616.20" fill="#222"/>
<polygon points="1020.10,613.90 1013.60,611.60 1013.60,616.20" fill="#222"/>
<text x="850.00" y="606.70" font-size="16.5" text-anchor="start" fill="#1a1a1a" >191.5 Wh kg<tspan font-size="11" dy="-7">-1</tspan><tspan dy="7"></tspan></text>
<text x="850.00" y="629.30" font-size="16.5" text-anchor="start" fill="#1a1a1a" >170.2 mAh g<tspan font-size="11" dy="-7">-1</tspan><tspan dy="7"></tspan></text>
<text x="1076.50" y="636.50" font-size="16.5" text-anchor="end" fill="#1a1a1a" >0.1C, 0.8-3.0 V</text>
<text x="786.70" y="423.30" font-size="17.5" text-anchor="start" fill="#1a1a1a" >NCM811//Zn<tspan font-size="12">2</tspan>Nb<tspan font-size="12">34</tspan>O<tspan font-size="12">87</tspan></text>
<text x="930.80" y="686.70" font-size="19" text-anchor="middle" fill="#1a1a1a" >Specific capacity(mAh g<tspan font-size="12.5" dy="-8">-1</tspan><tspan dy="8">)</tspan></text>
<text font-size="18.8" fill="#1a1a1a" text-anchor="middle" transform="translate(744,516) rotate(-90)">Voltage (V)</text>
<text x="729.50" y="419.50" font-size="30" text-anchor="start" fill="#231815" >e</text>
<clipPath id="fclip"><rect x="131" y="715" width="820.2" height="345.3"/></clipPath>
<g clip-path="url(#fclip)">
<polyline points="131.00,916.31 135.10,918.22 139.21,920.11 143.31,921.98 147.41,923.83 151.51,925.65 155.62,927.45 159.72,929.23 163.82,930.99 167.92,932.73 172.03,934.44 176.13,936.14 180.23,937.82 184.33,939.48 188.44,941.12 192.54,942.74 196.64,944.34 200.74,945.92 204.84,947.49 208.95,949.04 213.05,950.57 217.15,952.08 221.25,953.58 225.36,955.06 229.46,956.52 233.56,957.97 237.67,959.41 241.77,960.83 245.87,962.23 249.97,963.62 254.07,964.99 258.18,966.35 262.28,967.70 266.38,969.03 270.49,970.35 274.59,971.65 278.69,972.94 282.79,974.22 286.89,975.48 291.00,976.74 295.10,977.97 299.20,979.20 303.31,980.42 307.41,981.62 311.51,982.81 315.61,983.99 319.72,985.16 323.82,986.32 327.92,987.46 332.02,988.60 336.12,989.72 340.23,990.83 344.33,991.94 348.43,993.03 352.53,994.11 356.64,995.18 360.74,996.25 364.84,997.30 368.94,998.34 373.05,999.38 377.15,1000.40 381.25,1001.41 385.36,1002.42 389.46,1003.42 393.56,1004.40 397.66,1005.38 401.76,1006.35 405.87,1007.32 409.97,1008.27 414.07,1009.21 418.18,1010.15 422.28,1011.08 426.38,1012.00 430.48,1012.91 434.58,1013.82 438.69,1014.71 442.79,1015.60 446.89,1016.49 451.00,1017.36 455.10,1018.23 459.20,1019.09 463.30,1019.94 467.41,1020.79 471.51,1021.63 475.61,1022.46 479.71,1023.28 483.81,1024.10 487.92,1024.91 492.02,1025.72 496.12,1026.52 500.23,1027.31 504.33,1028.10 508.43,1028.88 512.53,1029.65 516.63,1030.42 520.74,1031.18 524.84,1031.94 528.94,1032.69 533.05,1033.43 537.15,1034.17 541.25,1034.90 545.35,1035.63 549.45,1036.35 553.56,1037.06 557.66,1037.77 561.76,1038.48 565.87,1039.18 569.97,1039.87 574.07,1040.56 578.17,1041.25 582.27,1041.93 586.38,1042.60 590.48,1043.27 594.58,1043.94 598.68,1044.60 602.79,1045.25 606.89,1045.90 610.99,1046.55 615.10,1047.19 619.20,1047.82 623.30,1048.45 627.40,1049.08 631.50,1049.70 635.61,1050.32 639.71,1050.94 643.81,1051.54 647.91,1052.15 652.02,1052.75 656.12,1053.35 660.22,1053.94 664.33,1054.53 668.43,1055.11 672.53,1055.69 676.63,1056.27 680.74,1056.84 684.84,1057.41 688.94,1057.98 693.04,1058.54 697.14,1059.10 701.25,1059.65 705.35,1060.20 709.45,1060.75 713.55,1061.29 717.66,1061.83 721.76,1062.36 725.86,1062.90 729.97,1063.42 734.07,1063.95 738.17,1064.47 742.27,1064.99 746.38,1065.50 750.48,1066.02 754.58,1066.52 758.68,1067.03 762.78,1067.53 766.89,1068.03 770.99,1068.53 775.09,1069.02 779.20,1069.51 783.30,1069.99 787.40,1070.48 791.50,1070.96 795.61,1071.44 799.71,1071.91 803.81,1072.38 807.91,1072.85 812.01,1073.32 816.12,1073.78 820.22,1074.24 824.32,1074.70 828.42,1075.15 832.53,1075.60 836.63,1076.05 840.73,1076.50 844.84,1076.94 848.94,1077.38 853.04,1077.82 857.14,1078.26 861.25,1078.69 865.35,1079.12 869.45,1079.55 873.55,1079.97 877.65,1080.40 881.76,1080.82 885.86,1081.23 889.96,1081.65 894.07,1082.06 898.17,1082.47 902.27,1082.88 906.37,1083.29 910.48,1083.69 914.58,1084.09 918.68,1084.49 922.78,1084.89 926.88,1085.29 930.99,1085.68 935.09,1086.07 939.19,1086.46 943.29,1086.84 947.40,1087.23 951.50,1087.61" fill="none" stroke="#4a4a4a" stroke-width="1.45" stroke-dasharray="7,5"/>
<polyline points="131.00,813.52 135.10,816.08 139.21,818.60 143.31,821.09 147.41,823.55 151.51,825.98 155.62,828.38 159.72,830.76 163.82,833.10 167.92,835.42 172.03,837.71 176.13,839.97 180.23,842.21 184.33,844.42 188.44,846.60 192.54,848.76 196.64,850.90 200.74,853.01 204.84,855.10 208.95,857.16 213.05,859.21 217.15,861.22 221.25,863.22 225.36,865.20 229.46,867.15 233.56,869.08 237.67,870.99 241.77,872.89 245.87,874.76 249.97,876.61 254.07,878.44 258.18,880.25 262.28,882.05 266.38,883.82 270.49,885.58 274.59,887.32 278.69,889.04 282.79,890.74 286.89,892.43 291.00,894.10 295.10,895.75 299.20,897.39 303.31,899.01 307.41,900.61 311.51,902.20 315.61,903.77 319.72,905.33 323.82,906.87 327.92,908.40 332.02,909.91 336.12,911.41 340.23,912.90 344.33,914.37 348.43,915.82 352.53,917.27 356.64,918.70 360.74,920.11 364.84,921.52 368.94,922.91 373.05,924.28 377.15,925.65 381.25,927.00 385.36,928.34 389.46,929.67 393.56,930.99 397.66,932.29 401.76,933.59 405.87,934.87 409.97,936.14 414.07,937.40 418.18,938.65 422.28,939.89 426.38,941.12 430.48,942.33 434.58,943.54 438.69,944.74 442.79,945.92 446.89,947.10 451.00,948.26 455.10,949.42 459.20,950.57 463.30,951.70 467.41,952.83 471.51,953.95 475.61,955.06 479.71,956.16 483.81,957.25 487.92,958.33 492.02,959.41 496.12,960.47 500.23,961.53 504.33,962.58 508.43,963.62 512.53,964.65 516.63,965.67 520.74,966.69 524.84,967.70 528.94,968.70 533.05,969.69 537.15,970.67 541.25,971.65 545.35,972.62 549.45,973.58 553.56,974.54 557.66,975.48 561.76,976.42 565.87,977.36 569.97,978.28 574.07,979.20 578.17,980.11 582.27,981.02 586.38,981.92 590.48,982.81 594.58,983.70 598.68,984.58 602.79,985.45 606.89,986.32 610.99,987.18 615.10,988.03 619.20,988.88 623.30,989.72 627.40,990.56 631.50,991.39 635.61,992.21 639.71,993.03 643.81,993.84 647.91,994.65 652.02,995.45 656.12,996.25 660.22,997.04 664.33,997.82 668.43,998.60 672.53,999.38 676.63,1000.14 680.74,1000.91 684.84,1001.67 688.94,1002.42 693.04,1003.17 697.14,1003.91 701.25,1004.65 705.35,1005.38 709.45,1006.11 713.55,1006.84 717.66,1007.55 721.76,1008.27 725.86,1008.98 729.97,1009.68 734.07,1010.38 738.17,1011.08 742.27,1011.77 746.38,1012.46 750.48,1013.14 754.58,1013.82 758.68,1014.49 762.78,1015.16 766.89,1015.82 770.99,1016.49 775.09,1017.14 779.20,1017.79 783.30,1018.44 787.40,1019.09 791.50,1019.73 795.61,1020.36 799.71,1021.00 803.81,1021.63 807.91,1022.25 812.01,1022.87 816.12,1023.49 820.22,1024.10 824.32,1024.71 828.42,1025.32 832.53,1025.92 836.63,1026.52 840.73,1027.11 844.84,1027.70 848.94,1028.29 853.04,1028.88 857.14,1029.46 861.25,1030.03 865.35,1030.61 869.45,1031.18 873.55,1031.75 877.65,1032.31 881.76,1032.87 885.86,1033.43 889.96,1033.98 894.07,1034.53 898.17,1035.08 902.27,1035.63 906.37,1036.17 910.48,1036.71 914.58,1037.24 918.68,1037.77 922.78,1038.30 926.88,1038.83 930.99,1039.35 935.09,1039.87 939.19,1040.39 943.29,1040.91 947.40,1041.42 951.50,1041.93" fill="none" stroke="#4a4a4a" stroke-width="1.45" stroke-dasharray="7,5"/>
<polyline points="131.00,710.74 135.10,713.94 139.21,717.09 143.31,720.20 147.41,723.28 151.51,726.32 155.62,729.32 159.72,732.28 163.82,735.22 167.92,738.11 172.03,740.97 176.13,743.80 180.23,746.60 184.33,749.36 188.44,752.09 192.54,754.79 196.64,757.46 200.74,760.10 204.84,762.71 208.95,765.29 213.05,767.84 217.15,770.37 221.25,772.86 225.36,775.33 229.46,777.77 233.56,780.19 237.67,782.58 241.77,784.94 245.87,787.28 249.97,789.60 254.07,791.89 258.18,794.15 262.28,796.39 266.38,798.61 270.49,800.81 274.59,802.98 278.69,805.13 282.79,807.26 286.89,809.37 291.00,811.46 295.10,813.52 299.20,815.57 303.31,817.60 307.41,819.60 311.51,821.59 315.61,823.55 319.72,825.50 323.82,827.43 327.92,829.34 332.02,831.23 336.12,833.10 340.23,834.96 344.33,836.80 348.43,838.62 352.53,840.42 356.64,842.21 360.74,843.98 364.84,845.73 368.94,847.47 373.05,849.19 377.15,850.90 381.25,852.59 385.36,854.27 389.46,855.93 393.56,857.57 397.66,859.21 401.76,860.82 405.87,862.43 409.97,864.01 414.07,865.59 418.18,867.15 422.28,868.70 426.38,870.23 430.48,871.75 434.58,873.26 438.69,874.76 442.79,876.24 446.89,877.71 451.00,879.17 455.10,880.61 459.20,882.05 463.30,883.47 467.41,884.88 471.51,886.28 475.61,887.66 479.71,889.04 483.81,890.40 487.92,891.76 492.02,893.10 496.12,894.43 500.23,895.75 504.33,897.06 508.43,898.36 512.53,899.65 516.63,900.93 520.74,902.20 524.84,903.46 528.94,904.71 533.05,905.95 537.15,907.18 541.25,908.40 545.35,909.61 549.45,910.81 553.56,912.01 557.66,913.19 561.76,914.37 565.87,915.53 569.97,916.69 574.07,917.84 578.17,918.98 582.27,920.11 586.38,921.24 590.48,922.35 594.58,923.46 598.68,924.56 602.79,925.65 606.89,926.73 610.99,927.81 615.10,928.88 619.20,929.94 623.30,930.99 627.40,932.03 631.50,933.07 635.61,934.10 639.71,935.13 643.81,936.14 647.91,937.15 652.02,938.15 656.12,939.15 660.22,940.13 664.33,941.12 668.43,942.09 672.53,943.06 676.63,944.02 680.74,944.97 684.84,945.92 688.94,946.86 693.04,947.80 697.14,948.73 701.25,949.65 705.35,950.57 709.45,951.48 713.55,952.38 717.66,953.28 721.76,954.17 725.86,955.06 729.97,955.94 734.07,956.82 738.17,957.69 742.27,958.55 746.38,959.41 750.48,960.26 754.58,961.11 758.68,961.95 762.78,962.79 766.89,963.62 770.99,964.44 775.09,965.27 779.20,966.08 783.30,966.89 787.40,967.70 791.50,968.50 795.61,969.29 799.71,970.08 803.81,970.87 807.91,971.65 812.01,972.43 816.12,973.20 820.22,973.96 824.32,974.73 828.42,975.48 832.53,976.24 836.63,976.98 840.73,977.73 844.84,978.47 848.94,979.20 853.04,979.93 857.14,980.66 861.25,981.38 865.35,982.10 869.45,982.81 873.55,983.52 877.65,984.23 881.76,984.93 885.86,985.62 889.96,986.32 894.07,987.01 898.17,987.69 902.27,988.37 906.37,989.05 910.48,989.72 914.58,990.39 918.68,991.06 922.78,991.72 926.88,992.38 930.99,993.03 935.09,993.68 939.19,994.33 943.29,994.97 947.40,995.61 951.50,996.25" fill="none" stroke="#4a4a4a" stroke-width="1.45" stroke-dasharray="7,5"/>
<polyline points="131.00,607.96 135.10,611.79 139.21,615.58 143.31,619.31 147.41,623.00 151.51,626.65 155.62,630.25 159.72,633.81 163.82,637.33 167.92,640.80 172.03,644.24 176.13,647.63 180.23,650.99 184.33,654.30 188.44,657.58 192.54,660.82 196.64,664.02 200.74,667.19 204.84,670.32 208.95,673.42 213.05,676.48 217.15,679.51 221.25,682.51 225.36,685.47 229.46,688.40 233.56,691.30 237.67,694.17 241.77,697.00 245.87,699.81 249.97,702.59 254.07,705.33 258.18,708.05 262.28,710.74 266.38,713.41 270.49,716.04 274.59,718.65 278.69,721.23 282.79,723.79 286.89,726.32 291.00,728.82 295.10,731.30 299.20,733.75 303.31,736.18 307.41,738.59 311.51,740.97 315.61,743.33 319.72,745.67 323.82,747.98 327.92,750.27 332.02,752.54 336.12,754.79 340.23,757.02 344.33,759.23 348.43,761.41 352.53,763.58 356.64,765.72 360.74,767.84 364.84,769.95 368.94,772.04 373.05,774.10 377.15,776.15 381.25,778.18 385.36,780.19 389.46,782.18 393.56,784.16 397.66,786.12 401.76,788.06 405.87,789.98 409.97,791.89 414.07,793.78 418.18,795.65 422.28,797.51 426.38,799.35 430.48,801.17 434.58,802.98 438.69,804.78 442.79,806.56 446.89,808.32 451.00,810.07 455.10,811.80 459.20,813.52 463.30,815.23 467.41,816.92 471.51,818.60 475.61,820.26 479.71,821.92 483.81,823.55 487.92,825.18 492.02,826.79 496.12,828.38 500.23,829.97 504.33,831.54 508.43,833.10 512.53,834.65 516.63,836.19 520.74,837.71 524.84,839.22 528.94,840.72 533.05,842.21 537.15,843.68 541.25,845.15 545.35,846.60 549.45,848.05 553.56,849.48 557.66,850.90 561.76,852.31 565.87,853.71 569.97,855.10 574.07,856.48 578.17,857.85 582.27,859.21 586.38,860.55 590.48,861.89 594.58,863.22 598.68,864.54 602.79,865.85 606.89,867.15 610.99,868.44 615.10,869.72 619.20,870.99 623.30,872.26 627.40,873.51 631.50,874.76 635.61,875.99 639.71,877.22 643.81,878.44 647.91,879.65 652.02,880.85 656.12,882.05 660.22,883.23 664.33,884.41 668.43,885.58 672.53,886.74 676.63,887.89 680.74,889.04 684.84,890.18 688.94,891.31 693.04,892.43 697.14,893.54 701.25,894.65 705.35,895.75 709.45,896.84 713.55,897.93 717.66,899.01 721.76,900.08 725.86,901.14 729.97,902.20 734.07,903.25 738.17,904.29 742.27,905.33 746.38,906.36 750.48,907.38 754.58,908.40 758.68,909.41 762.78,910.41 766.89,911.41 770.99,912.40 775.09,913.39 779.20,914.37 783.30,915.34 787.40,916.31 791.50,917.27 795.61,918.22 799.71,919.17 803.81,920.11 807.91,921.05 812.01,921.98 816.12,922.91 820.22,923.83 824.32,924.74 828.42,925.65 832.53,926.55 836.63,927.45 840.73,928.34 844.84,929.23 848.94,930.11 853.04,930.99 857.14,931.86 861.25,932.73 865.35,933.59 869.45,934.44 873.55,935.30 877.65,936.14 881.76,936.98 885.86,937.82 889.96,938.65 894.07,939.48 898.17,940.30 902.27,941.12 906.37,941.93 910.48,942.74 914.58,943.54 918.68,944.34 922.78,945.13 926.88,945.92 930.99,946.71 935.09,947.49 939.19,948.26 943.29,949.04 947.40,949.80 951.50,950.57" fill="none" stroke="#4a4a4a" stroke-width="1.45" stroke-dasharray="7,5"/>
<polyline points="131.00,505.18 135.10,509.65 139.21,514.06 143.31,518.42 147.41,522.73 151.51,526.98 155.62,531.19 159.72,535.34 163.82,539.44 167.92,543.50 172.03,547.50 176.13,551.46 180.23,555.38 184.33,559.25 188.44,563.07 192.54,566.85 196.64,570.59 200.74,574.28 204.84,577.94 208.95,581.55 213.05,585.12 217.15,588.66 221.25,592.15 225.36,595.61 229.46,599.02 233.56,602.41 237.67,605.75 241.77,609.06 245.87,612.34 249.97,615.58 254.07,618.78 258.18,621.95 262.28,625.09 266.38,628.20 270.49,631.27 274.59,634.32 278.69,637.33 282.79,640.31 286.89,643.26 291.00,646.18 295.10,649.07 299.20,651.94 303.31,654.77 307.41,657.58 311.51,660.36 315.61,663.11 319.72,665.84 323.82,668.54 327.92,671.21 332.02,673.86 336.12,676.48 340.23,679.08 344.33,681.65 348.43,684.20 352.53,686.73 356.64,689.23 360.74,691.71 364.84,694.17 368.94,696.60 373.05,699.01 377.15,701.40 381.25,703.77 385.36,706.11 389.46,708.44 393.56,710.74 397.66,713.03 401.76,715.29 405.87,717.54 409.97,719.76 414.07,721.96 418.18,724.15 422.28,726.32 426.38,728.46 430.48,730.59 434.58,732.71 438.69,734.80 442.79,736.87 446.89,738.93 451.00,740.97 455.10,743.00 459.20,745.00 463.30,746.99 467.41,748.97 471.51,750.93 475.61,752.87 479.71,754.79 483.81,756.70 487.92,758.60 492.02,760.48 496.12,762.34 500.23,764.19 504.33,766.02 508.43,767.84 512.53,769.65 516.63,771.44 520.74,773.22 524.84,774.98 528.94,776.73 533.05,778.47 537.15,780.19 541.25,781.90 545.35,783.60 549.45,785.28 553.56,786.95 557.66,788.61 561.76,790.25 565.87,791.89 569.97,793.51 574.07,795.12 578.17,796.71 582.27,798.30 586.38,799.87 590.48,801.43 594.58,802.98 598.68,804.52 602.79,806.05 606.89,807.57 610.99,809.07 615.10,810.57 619.20,812.05 623.30,813.52 627.40,814.99 631.50,816.44 635.61,817.88 639.71,819.32 643.81,820.74 647.91,822.15 652.02,823.55 656.12,824.95 660.22,826.33 664.33,827.70 668.43,829.07 672.53,830.42 676.63,831.77 680.74,833.10 684.84,834.43 688.94,835.75 693.04,837.06 697.14,838.36 701.25,839.65 705.35,840.93 709.45,842.21 713.55,843.47 717.66,844.73 721.76,845.98 725.86,847.22 729.97,848.46 734.07,849.68 738.17,850.90 742.27,852.11 746.38,853.31 750.48,854.51 754.58,855.69 758.68,856.87 762.78,858.04 766.89,859.21 770.99,860.36 775.09,861.51 779.20,862.65 783.30,863.79 787.40,864.92 791.50,866.04 795.61,867.15 799.71,868.26 803.81,869.36 807.91,870.45 812.01,871.54 816.12,872.62 820.22,873.69 824.32,874.76 828.42,875.82 832.53,876.87 836.63,877.92 840.73,878.96 844.84,879.99 848.94,881.02 853.04,882.05 857.14,883.06 861.25,884.07 865.35,885.08 869.45,886.08 873.55,887.07 877.65,888.06 881.76,889.04 885.86,890.01 889.96,890.98 894.07,891.95 898.17,892.91 902.27,893.86 906.37,894.81 910.48,895.75 914.58,896.69 918.68,897.62 922.78,898.55 926.88,899.47 930.99,900.38 935.09,901.29 939.19,902.20 943.29,903.10 947.40,904.00 951.50,904.89" fill="none" stroke="#4a4a4a" stroke-width="1.45" stroke-dasharray="7,5"/>
<polyline points="131.00,402.40 135.10,407.51 139.21,412.55 143.31,417.53 147.41,422.45 151.51,427.32 155.62,432.12 159.72,436.87 163.82,441.55 167.92,446.19 172.03,450.77 176.13,455.29 180.23,459.77 184.33,464.19 188.44,468.56 192.54,472.88 196.64,477.15 200.74,481.37 204.84,485.55 208.95,489.68 213.05,493.76 217.15,497.80 221.25,501.79 225.36,505.74 229.46,509.65 233.56,513.51 237.67,517.34 241.77,521.12 245.87,524.86 249.97,528.57 254.07,532.23 258.18,535.85 262.28,539.44 266.38,542.99 270.49,546.51 274.59,549.98 278.69,553.43 282.79,556.83 286.89,560.21 291.00,563.54 295.10,566.85 299.20,570.12 303.31,573.36 307.41,576.57 311.51,579.75 315.61,582.89 319.72,586.01 323.82,589.09 327.92,592.15 332.02,595.18 336.12,598.17 340.23,601.14 344.33,604.08 348.43,607.00 352.53,609.88 356.64,612.74 360.74,615.58 364.84,618.38 368.94,621.16 373.05,623.92 377.15,626.65 381.25,629.36 385.36,632.04 389.46,634.69 393.56,637.33 397.66,639.94 401.76,642.53 405.87,645.09 409.97,647.63 414.07,650.15 418.18,652.65 422.28,655.13 426.38,657.58 430.48,660.01 434.58,662.43 438.69,664.82 442.79,667.19 446.89,669.54 451.00,671.88 455.10,674.19 459.20,676.48 463.30,678.76 467.41,681.01 471.51,683.25 475.61,685.47 479.71,687.67 483.81,689.85 487.92,692.02 492.02,694.17 496.12,696.30 500.23,698.41 504.33,700.51 508.43,702.59 512.53,704.65 516.63,706.70 520.74,708.73 524.84,710.74 528.94,712.74 533.05,714.73 537.15,716.70 541.25,718.65 545.35,720.59 549.45,722.51 553.56,724.42 557.66,726.32 561.76,728.20 565.87,730.06 569.97,731.92 574.07,733.75 578.17,735.58 582.27,737.39 586.38,739.19 590.48,740.97 594.58,742.75 598.68,744.50 602.79,746.25 606.89,747.98 610.99,749.70 615.10,751.41 619.20,753.11 623.30,754.79 627.40,756.46 631.50,758.13 635.61,759.77 639.71,761.41 643.81,763.04 647.91,764.65 652.02,766.25 656.12,767.84 660.22,769.43 664.33,770.99 668.43,772.55 672.53,774.10 676.63,775.64 680.74,777.17 684.84,778.68 688.94,780.19 693.04,781.69 697.14,783.17 701.25,784.65 705.35,786.12 709.45,787.57 713.55,789.02 717.66,790.46 721.76,791.89 725.86,793.31 729.97,794.72 734.07,796.12 738.17,797.51 742.27,798.89 746.38,800.26 750.48,801.63 754.58,802.98 758.68,804.33 762.78,805.67 766.89,807.00 770.99,808.32 775.09,809.63 779.20,810.94 783.30,812.24 787.40,813.52 791.50,814.81 795.61,816.08 799.71,817.34 803.81,818.60 807.91,819.85 812.01,821.09 816.12,822.33 820.22,823.55 824.32,824.77 828.42,825.98 832.53,827.19 836.63,828.38 840.73,829.57 844.84,830.76 848.94,831.93 853.04,833.10 857.14,834.26 861.25,835.42 865.35,836.57 869.45,837.71 873.55,838.84 877.65,839.97 881.76,841.09 885.86,842.21 889.96,843.32 894.07,844.42 898.17,845.51 902.27,846.60 906.37,847.69 910.48,848.76 914.58,849.84 918.68,850.90 922.78,851.96 926.88,853.01 930.99,854.06 935.09,855.10 939.19,856.13 943.29,857.16 947.40,858.19 951.50,859.21" fill="none" stroke="#4a4a4a" stroke-width="1.45" stroke-dasharray="7,5"/>
<polyline points="131.00,299.62 135.10,305.36 139.21,311.04 143.31,316.64 147.41,322.18 151.51,327.65 155.62,333.05 159.72,338.39 163.82,343.67 167.92,348.88 172.03,354.03 176.13,359.12 180.23,364.16 184.33,369.13 188.44,374.05 192.54,378.91 196.64,383.71 200.74,388.46 204.84,393.16 208.95,397.81 213.05,402.40 217.15,406.94 221.25,411.44 225.36,415.88 229.46,420.27 233.56,424.62 237.67,428.92 241.77,433.18 245.87,437.39 249.97,441.55 254.07,445.68 258.18,449.75 262.28,453.79 266.38,457.78 270.49,461.74 274.59,465.65 278.69,469.52 282.79,473.36 286.89,477.15 291.00,480.91 295.10,484.62 299.20,488.31 303.31,491.95 307.41,495.56 311.51,499.14 315.61,502.67 319.72,506.18 323.82,509.65 327.92,513.09 332.02,516.49 336.12,519.86 340.23,523.20 344.33,526.51 348.43,529.79 352.53,533.04 356.64,536.25 360.74,539.44 364.84,542.60 368.94,545.73 373.05,548.83 377.15,551.90 381.25,554.94 385.36,557.96 389.46,560.95 393.56,563.91 397.66,566.85 401.76,569.76 405.87,572.65 409.97,575.51 414.07,578.34 418.18,581.15 422.28,583.94 426.38,586.70 430.48,589.44 434.58,592.15 438.69,594.84 442.79,597.51 446.89,600.16 451.00,602.78 455.10,605.38 459.20,607.96 463.30,610.52 467.41,613.06 471.51,615.58 475.61,618.07 479.71,620.55 483.81,623.00 487.92,625.44 492.02,627.86 496.12,630.25 500.23,632.63 504.33,634.99 508.43,637.33 512.53,639.65 516.63,641.95 520.74,644.24 524.84,646.51 528.94,648.76 533.05,650.99 537.15,653.20 541.25,655.40 545.35,657.58 549.45,659.75 553.56,661.89 557.66,664.02 561.76,666.14 565.87,668.24 569.97,670.32 574.07,672.39 578.17,674.45 582.27,676.48 586.38,678.51 590.48,680.51 594.58,682.51 598.68,684.49 602.79,686.45 606.89,688.40 610.99,690.34 615.10,692.26 619.20,694.17 623.30,696.06 627.40,697.94 631.50,699.81 635.61,701.66 639.71,703.51 643.81,705.33 647.91,707.15 652.02,708.95 656.12,710.74 660.22,712.52 664.33,714.29 668.43,716.04 672.53,717.78 676.63,719.51 680.74,721.23 684.84,722.94 688.94,724.63 693.04,726.32 697.14,727.99 701.25,729.65 705.35,731.30 709.45,732.94 713.55,734.57 717.66,736.18 721.76,737.79 725.86,739.39 729.97,740.97 734.07,742.55 738.17,744.11 742.27,745.67 746.38,747.21 750.48,748.75 754.58,750.27 758.68,751.79 762.78,753.30 766.89,754.79 770.99,756.28 775.09,757.76 779.20,759.23 783.30,760.68 787.40,762.13 791.50,763.58 795.61,765.01 799.71,766.43 803.81,767.84 807.91,769.25 812.01,770.65 816.12,772.04 820.22,773.42 824.32,774.79 828.42,776.15 832.53,777.50 836.63,778.85 840.73,780.19 844.84,781.52 848.94,782.84 853.04,784.16 857.14,785.47 861.25,786.77 865.35,788.06 869.45,789.34 873.55,790.62 877.65,791.89 881.76,793.15 885.86,794.40 889.96,795.65 894.07,796.89 898.17,798.12 902.27,799.35 906.37,800.57 910.48,801.78 914.58,802.98 918.68,804.18 922.78,805.37 926.88,806.56 930.99,807.73 935.09,808.91 939.19,810.07 943.29,811.23 947.40,812.38 951.50,813.52" fill="none" stroke="#4a4a4a" stroke-width="1.45" stroke-dasharray="7,5"/>
<polyline points="131.00,196.84 135.10,203.22 139.21,209.53 143.31,215.75 147.41,221.91 151.51,227.98 155.62,233.99 159.72,239.92 163.82,245.78 167.92,251.57 172.03,257.30 176.13,262.95 180.23,268.55 184.33,274.07 188.44,279.54 192.54,284.94 196.64,290.28 200.74,295.55 204.84,300.77 208.95,305.93 213.05,311.04 217.15,316.09 221.25,321.08 225.36,326.02 229.46,330.90 233.56,335.73 237.67,340.51 241.77,345.24 245.87,349.92 249.97,354.54 254.07,359.12 258.18,363.66 262.28,368.14 266.38,372.58 270.49,376.97 274.59,381.32 278.69,385.62 282.79,389.88 286.89,394.09 291.00,398.27 295.10,402.40 299.20,406.49 303.31,410.54 307.41,414.55 311.51,418.52 315.61,422.45 319.72,426.35 323.82,430.21 327.92,434.03 332.02,437.81 336.12,441.55 340.23,445.27 344.33,448.94 348.43,452.58 352.53,456.19 356.64,459.77 360.74,463.31 364.84,466.82 368.94,470.29 373.05,473.74 377.15,477.15 381.25,480.53 385.36,483.88 389.46,487.21 393.56,490.50 397.66,493.76 401.76,497.00 405.87,500.20 409.97,503.38 414.07,506.53 418.18,509.65 422.28,512.75 426.38,515.81 430.48,518.86 434.58,521.87 438.69,524.86 442.79,527.83 446.89,530.77 451.00,533.68 455.10,536.57 459.20,539.44 463.30,542.28 467.41,545.10 471.51,547.90 475.61,550.67 479.71,553.43 483.81,556.15 487.92,558.86 492.02,561.55 496.12,564.21 500.23,566.85 504.33,569.47 508.43,572.07 512.53,574.65 516.63,577.21 520.74,579.75 524.84,582.27 528.94,584.77 533.05,587.25 537.15,589.71 541.25,592.15 545.35,594.57 549.45,596.98 553.56,599.36 557.66,601.73 561.76,604.08 565.87,606.42 569.97,608.73 574.07,611.03 578.17,613.31 582.27,615.58 586.38,617.82 590.48,620.05 594.58,622.27 598.68,624.47 602.79,626.65 606.89,628.82 610.99,630.97 615.10,633.10 619.20,635.22 623.30,637.33 627.40,639.42 631.50,641.49 635.61,643.55 639.71,645.60 643.81,647.63 647.91,649.65 652.02,651.65 656.12,653.64 660.22,655.62 664.33,657.58 668.43,659.53 672.53,661.47 676.63,663.39 680.74,665.30 684.84,667.19 688.94,669.08 693.04,670.95 697.14,672.80 701.25,674.65 705.35,676.48 709.45,678.30 713.55,680.11 717.66,681.91 721.76,683.70 725.86,685.47 729.97,687.23 734.07,688.98 738.17,690.72 742.27,692.45 746.38,694.17 750.48,695.87 754.58,697.57 758.68,699.25 762.78,700.92 766.89,702.59 770.99,704.24 775.09,705.88 779.20,707.51 783.30,709.13 787.40,710.74 791.50,712.34 795.61,713.94 799.71,715.52 803.81,717.09 807.91,718.65 812.01,720.20 816.12,721.74 820.22,723.28 824.32,724.80 828.42,726.32 832.53,727.82 836.63,729.32 840.73,730.81 844.84,732.28 848.94,733.75 853.04,735.22 857.14,736.67 861.25,738.11 865.35,739.55 869.45,740.97 873.55,742.39 877.65,743.80 881.76,745.20 885.86,746.60 889.96,747.98 894.07,749.36 898.17,750.73 902.27,752.09 906.37,753.45 910.48,754.79 914.58,756.13 918.68,757.46 922.78,758.79 926.88,760.10 930.99,761.41 935.09,762.71 939.19,764.01 943.29,765.29 947.40,766.57 951.50,767.84" fill="none" stroke="#4a4a4a" stroke-width="1.45" stroke-dasharray="7,5"/>
<polyline points="131.00,94.06 135.10,101.08 139.21,108.01 143.31,114.86 147.41,121.63 151.51,128.32 155.62,134.92 159.72,141.45 163.82,147.89 167.92,154.27 172.03,160.56 176.13,166.78 180.23,172.93 184.33,179.01 188.44,185.02 192.54,190.96 196.64,196.84 200.74,202.64 204.84,208.39 208.95,214.06 213.05,219.68 217.15,225.23 221.25,230.72 225.36,236.15 229.46,241.52 233.56,246.84 237.67,252.10 241.77,257.30 245.87,262.44 249.97,267.53 254.07,272.57 258.18,277.56 262.28,282.49 266.38,287.37 270.49,292.20 274.59,296.98 278.69,301.72 282.79,306.40 286.89,311.04 291.00,315.63 295.10,320.17 299.20,324.67 303.31,329.13 307.41,333.54 311.51,337.91 315.61,342.24 319.72,346.52 323.82,350.76 327.92,354.96 332.02,359.12 336.12,363.25 340.23,367.33 344.33,371.37 348.43,375.38 352.53,379.35 356.64,383.28 360.74,387.17 364.84,391.03 368.94,394.86 373.05,398.65 377.15,402.40 381.25,406.12 385.36,409.81 389.46,413.46 393.56,417.08 397.66,420.67 401.76,424.23 405.87,427.76 409.97,431.25 414.07,434.72 418.18,438.15 422.28,441.55 426.38,444.93 430.48,448.28 434.58,451.59 438.69,454.88 442.79,458.15 446.89,461.38 451.00,464.59 455.10,467.77 459.20,470.92 463.30,474.05 467.41,477.15 471.51,480.23 475.61,483.28 479.71,486.30 483.81,489.30 487.92,492.28 492.02,495.23 496.12,498.16 500.23,501.07 504.33,503.95 508.43,506.81 512.53,509.65 516.63,512.46 520.74,515.26 524.84,518.03 528.94,520.78 533.05,523.51 537.15,526.21 541.25,528.90 545.35,531.57 549.45,534.21 553.56,536.84 557.66,539.44 561.76,542.03 565.87,544.59 569.97,547.14 574.07,549.67 578.17,552.18 582.27,554.67 586.38,557.14 590.48,559.59 594.58,562.03 598.68,564.45 602.79,566.85 606.89,569.23 610.99,571.60 615.10,573.95 619.20,576.28 623.30,578.60 627.40,580.90 631.50,583.18 635.61,585.45 639.71,587.70 643.81,589.93 647.91,592.15 652.02,594.35 656.12,596.54 660.22,598.72 664.33,600.87 668.43,603.02 672.53,605.15 676.63,607.26 680.74,609.36 684.84,611.45 688.94,613.52 693.04,615.58 697.14,617.62 701.25,619.65 705.35,621.67 709.45,623.67 713.55,625.66 717.66,627.64 721.76,629.60 725.86,631.55 729.97,633.49 734.07,635.42 738.17,637.33 742.27,639.23 746.38,641.12 750.48,642.99 754.58,644.86 758.68,646.71 762.78,648.55 766.89,650.38 770.99,652.20 775.09,654.00 779.20,655.80 783.30,657.58 787.40,659.35 791.50,661.11 795.61,662.86 799.71,664.60 803.81,666.33 807.91,668.05 812.01,669.76 816.12,671.45 820.22,673.14 824.32,674.82 828.42,676.48 832.53,678.14 836.63,679.79 840.73,681.42 844.84,683.05 848.94,684.66 853.04,686.27 857.14,687.87 861.25,689.46 865.35,691.04 869.45,692.61 873.55,694.17 877.65,695.72 881.76,697.26 885.86,698.79 889.96,700.32 894.07,701.83 898.17,703.34 902.27,704.84 906.37,706.33 910.48,707.81 914.58,709.28 918.68,710.74 922.78,712.20 926.88,713.65 930.99,715.09 935.09,716.52 939.19,717.94 943.29,719.36 947.40,720.76 951.50,722.16" fill="none" stroke="#4a4a4a" stroke-width="1.45" stroke-dasharray="7,5"/>
</g>
<rect x="130.5" y="714.5" width="821" height="346" fill="none" stroke="#2e2e2e" stroke-width="1.2"/>
<line x1="124.00" y1="1060.20" x2="131.00" y2="1060.20" stroke="#2e2e2e" stroke-width="1.1" />
<text x="119.80" y="1066.00" font-size="16.5" text-anchor="end" fill="#1a1a1a" >1.0</text>
<line x1="124.00" y1="977.97" x2="131.00" y2="977.97" stroke="#2e2e2e" stroke-width="1.1" />
<text x="119.80" y="983.77" font-size="16.5" text-anchor="end" fill="#1a1a1a" >1.5</text>
<line x1="124.00" y1="895.75" x2="131.00" y2="895.75" stroke="#2e2e2e" stroke-width="1.1" />
<text x="119.80" y="901.55" font-size="16.5" text-anchor="end" fill="#1a1a1a" >2.0</text>
<line x1="124.00" y1="813.52" x2="131.00" y2="813.52" stroke="#2e2e2e" stroke-width="1.1" />
<text x="119.80" y="819.32" font-size="16.5" text-anchor="end" fill="#1a1a1a" >2.5</text>
<line x1="124.00" y1="731.30" x2="131.00" y2="731.30" stroke="#2e2e2e" stroke-width="1.1" />
<text x="119.80" y="737.10" font-size="16.5" text-anchor="end" fill="#1a1a1a" >3.0</text>
<line x1="127.00" y1="1019.09" x2="131.00" y2="1019.09" stroke="#2e2e2e" stroke-width="1.1" />
<line x1="127.00" y1="936.86" x2="131.00" y2="936.86" stroke="#2e2e2e" stroke-width="1.1" />
<line x1="127.00" y1="854.64" x2="131.00" y2="854.64" stroke="#2e2e2e" stroke-width="1.1" />
<line x1="127.00" y1="772.41" x2="131.00" y2="772.41" stroke="#2e2e2e" stroke-width="1.1" />
<line x1="131.00" y1="1060.30" x2="131.00" y2="1065.00" stroke="#2e2e2e" stroke-width="1.1" />
<text x="131.00" y="1085.80" font-size="16.5" text-anchor="middle" fill="#1a1a1a" >40</text>
<line x1="295.10" y1="1060.30" x2="295.10" y2="1065.00" stroke="#2e2e2e" stroke-width="1.1" />
<text x="295.10" y="1085.80" font-size="16.5" text-anchor="middle" fill="#1a1a1a" >50</text>
<line x1="459.20" y1="1060.30" x2="459.20" y2="1065.00" stroke="#2e2e2e" stroke-width="1.1" />
<text x="459.20" y="1085.80" font-size="16.5" text-anchor="middle" fill="#1a1a1a" >60</text>
<line x1="623.30" y1="1060.30" x2="623.30" y2="1065.00" stroke="#2e2e2e" stroke-width="1.1" />
<text x="623.30" y="1085.80" font-size="16.5" text-anchor="middle" fill="#1a1a1a" >70</text>
<line x1="787.40" y1="1060.30" x2="787.40" y2="1065.00" stroke="#2e2e2e" stroke-width="1.1" />
<text x="787.40" y="1085.80" font-size="16.5" text-anchor="middle" fill="#1a1a1a" >80</text>
<line x1="951.50" y1="1060.30" x2="951.50" y2="1065.00" stroke="#2e2e2e" stroke-width="1.1" />
<text x="951.50" y="1085.80" font-size="16.5" text-anchor="middle" fill="#1a1a1a" >90</text>
<line x1="213.05" y1="1060.30" x2="213.05" y2="1063.00" stroke="#2e2e2e" stroke-width="1.1" />
<line x1="377.15" y1="1060.30" x2="377.15" y2="1063.00" stroke="#2e2e2e" stroke-width="1.1" />
<line x1="541.25" y1="1060.30" x2="541.25" y2="1063.00" stroke="#2e2e2e" stroke-width="1.1" />
<line x1="705.35" y1="1060.30" x2="705.35" y2="1063.00" stroke="#2e2e2e" stroke-width="1.1" />
<line x1="869.45" y1="1060.30" x2="869.45" y2="1063.00" stroke="#2e2e2e" stroke-width="1.1" />
<text x="957.50" y="1048.73" font-size="16.5" text-anchor="start" fill="#1a1a1a" >100</text>
<text x="957.50" y="1003.05" font-size="16.5" text-anchor="start" fill="#1a1a1a" >125</text>
<text x="957.50" y="957.37" font-size="16.5" text-anchor="start" fill="#1a1a1a" >150</text>
<text x="957.50" y="911.69" font-size="16.5" text-anchor="start" fill="#1a1a1a" >175</text>
<text x="957.50" y="866.01" font-size="16.5" text-anchor="start" fill="#1a1a1a" >200</text>
<polygon points="486.20,723.60 488.61,728.98 494.47,729.61 490.10,733.57 491.31,739.34 486.20,736.40 481.09,739.34 482.30,733.57 477.93,729.61 483.79,728.98" fill="none" stroke="#FF0000" stroke-width="2" stroke-linejoin="miter"/>
<polygon points="554.80,817.10 557.21,822.48 563.07,823.11 558.70,827.07 559.91,832.84 554.80,829.90 549.69,832.84 550.90,827.07 546.53,823.11 552.39,822.48" fill="none" stroke="#FF0000" stroke-width="2" stroke-linejoin="miter"/>
<polygon points="871.70,847.10 874.11,852.48 879.97,853.11 875.60,857.07 876.81,862.84 871.70,859.90 866.59,862.84 867.80,857.07 863.43,853.11 869.29,852.48" fill="none" stroke="#FF0000" stroke-width="2" stroke-linejoin="miter"/>
<polygon points="344.90,832.80 362.50,832.80 353.70,848.20" fill="none" stroke="#800080" stroke-width="2.2" stroke-linejoin="round"/>
<polygon points="367.90,833.00 385.50,833.00 376.70,848.40" fill="none" stroke="#0000A8" stroke-width="2.2" stroke-linejoin="round"/>
<polygon points="417.30,824.80 434.90,824.80 426.10,840.20" fill="none" stroke="#FF8000" stroke-width="2.2" stroke-linejoin="round"/>
<polygon points="253.00,874.80 270.60,874.80 261.80,890.20" fill="none" stroke="#8B0000" stroke-width="2.2" stroke-linejoin="round"/>
<polygon points="450.10,890.70 467.70,890.70 458.90,906.10" fill="none" stroke="#000090" stroke-width="2.2" stroke-linejoin="round"/>
<polygon points="581.60,858.80 599.20,858.80 590.40,874.20" fill="none" stroke="#8000FF" stroke-width="2.2" stroke-linejoin="round"/>
<polygon points="392.50,928.90 410.10,928.90 401.30,944.30" fill="none" stroke="#808000" stroke-width="2.2" stroke-linejoin="round"/>
<polygon points="218.70,940.30 236.30,940.30 227.50,955.70" fill="none" stroke="#008080" stroke-width="2.2" stroke-linejoin="round"/>
<polygon points="307.30,973.60 324.90,973.60 316.10,989.00" fill="none" stroke="#008000" stroke-width="2.2" stroke-linejoin="round"/>
<text x="440.50" y="760.50" font-size="20" text-anchor="start" fill="#FF0000" >LNMO//ZNO</text>
<text x="569.30" y="830.10" font-size="20" text-anchor="start" fill="#FF0000" >LMO//ZNO</text>
<text x="793.90" y="886.60" font-size="20" text-anchor="start" fill="#FF0000" >NCM811//ZNO</text>
<text x="241.50" y="838.00" font-size="20" text-anchor="start" fill="#800080" >LNMO//MS</text>
<text x="326.30" y="871.40" font-size="20" text-anchor="start" fill="#0000A8" >LCO//LTO</text>
<text x="371.90" y="816.40" font-size="20" text-anchor="start" fill="#FF8000" >LMO//LTO</text>
<text x="201.70" y="910.00" font-size="20" text-anchor="start" fill="#8B0000" >LMO//TiO<tspan font-size="12">2</tspan></text>
<text x="416.30" y="927.20" font-size="20" text-anchor="start" fill="#000090" >LCO//MS</text>
<text x="539.20" y="893.40" font-size="20" text-anchor="start" fill="#8000FF" >NCM811//LTO</text>
<text x="348.00" y="964.10" font-size="20" text-anchor="start" fill="#808000" >LMO//MS</text>
<text x="186.40" y="977.50" font-size="20" text-anchor="start" fill="#008080" >LMO//TS</text>
<text x="264.00" y="1010.80" font-size="20" text-anchor="start" fill="#008000" >LMO//LTPO</text>
<text x="310.00" y="1110.60" font-size="20" text-anchor="start" fill="#1a1a1a" >Specific capacity based on both electrodes (mAh g<tspan font-size="13" dy="-8.5">-1</tspan><tspan dy="8.5">)</tspan></text>
<text font-size="20.2" fill="#1a1a1a" text-anchor="middle" transform="translate(82.5,885) rotate(-90)">Average output voltage (V)</text>
<text font-size="20" fill="#1a1a1a" text-anchor="middle" transform="translate(1017,887.5) rotate(-90)">Energy density (Wh kg<tspan font-size="13" dy="-8.5">-1</tspan><tspan dy="8.5">)</tspan></text>
<text x="61.00" y="739.00" font-size="31" text-anchor="start" fill="#231815" >f</text>
</svg></body></html>
